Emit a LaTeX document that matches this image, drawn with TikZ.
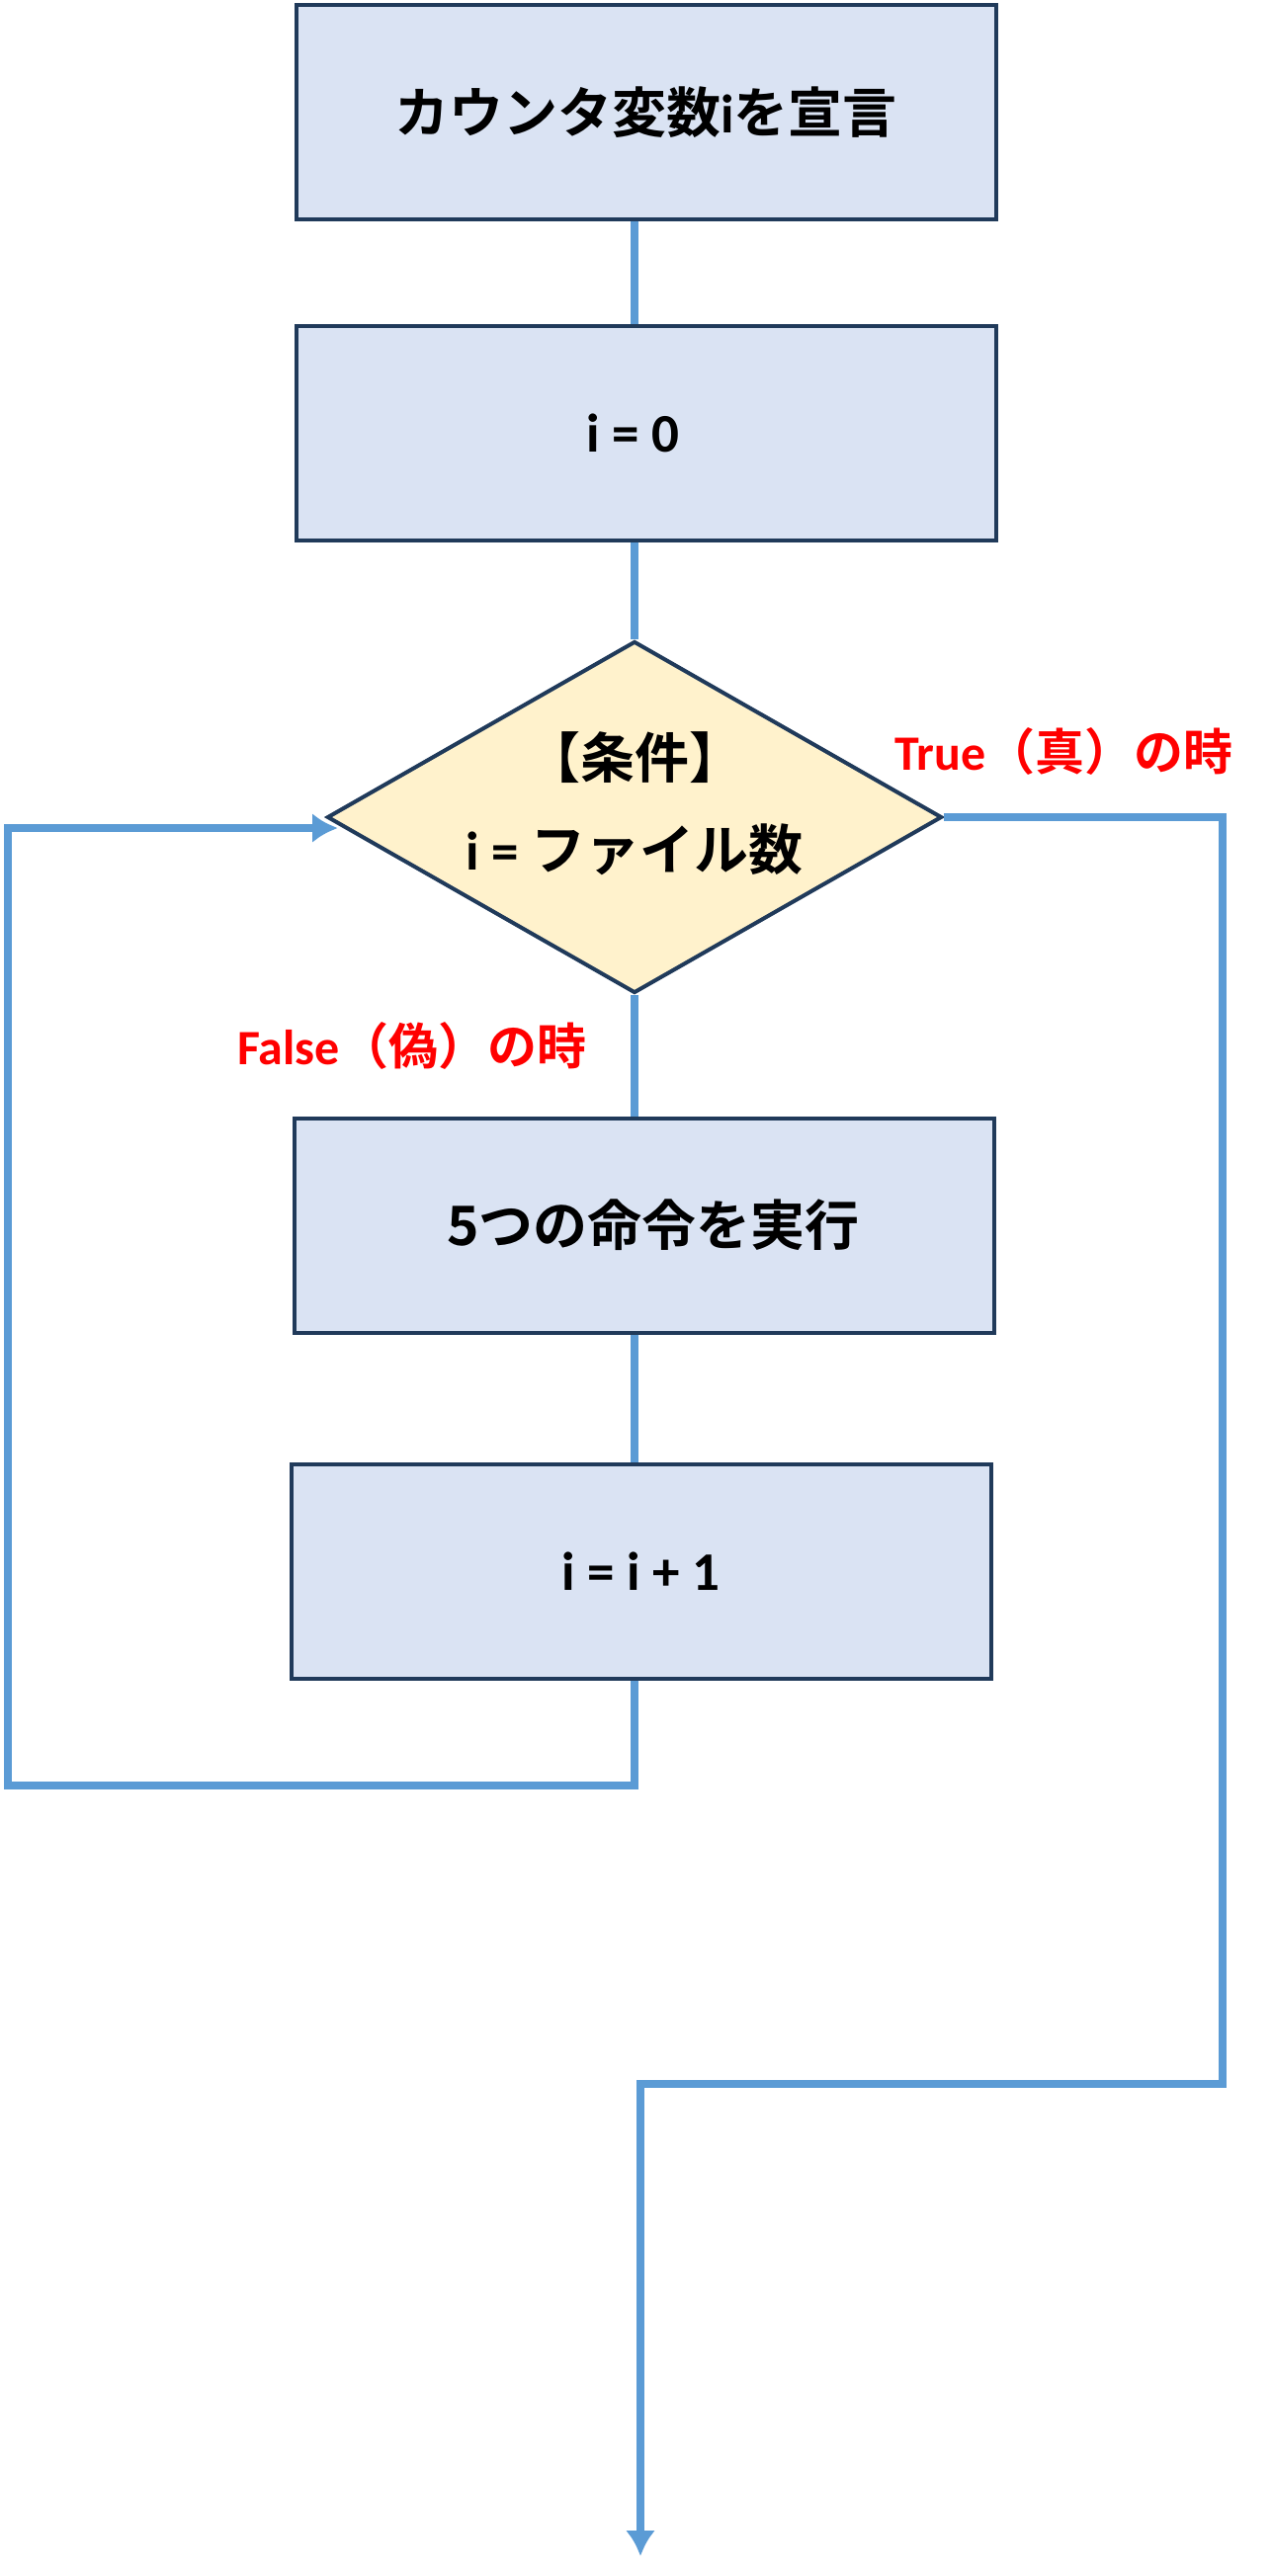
\documentclass[tikz,border=0pt]{standalone}
\usepackage{fontspec}
\setmainfont{Carlito}
\newfontfamily\jp{Noto Sans CJK JP}[BoldFont={Noto Sans CJK JP Bold}]
\usetikzlibrary{shapes.geometric,arrows.meta}
\definecolor{boxfill}{HTML}{DAE3F3}
\definecolor{boxline}{HTML}{203A5A}
\definecolor{condfill}{HTML}{FFF2CC}
\definecolor{flowline}{HTML}{5B9BD5}
\definecolor{labelred}{HTML}{FF0000}
\tikzset{
  procbox/.style={draw=boxline,line width=4pt,fill=boxfill,minimum width=708pt,minimum height=217pt,inner sep=0pt,font=\fontsize{55}{66}\selectfont\bfseries},
  condbox/.style={diamond,draw=boxline,line width=4pt,fill=condfill,minimum width=622pt,minimum height=356pt,aspect=1.75,inner sep=0pt},
  condtext/.style={align=center,inner sep=0pt,font=\fontsize{55}{93}\selectfont\bfseries},
  flow/.style={draw=flowline,line width=8pt},
  flowarrow/.style={flow,-{Latex[length=26pt,width=30pt]}},
  branchlabel/.style={text=labelred,inner sep=0pt,font=\fontsize{50}{60}\selectfont\bfseries}
}
\begin{document}
\begin{tikzpicture}[x=1pt,y=-1pt]
        %% NOTE: page frame
        \useasboundingbox (0,0) rectangle (1287,2607);
        %% steps
        \node[procbox] (decl) at (653.5,113.5) {{\jp カウンタ変数}i{\jp を宣言}};
        \node[procbox] (init) at (653.5,438) {i = 0\hspace*{26pt}};
        \node[condbox] (cond) at (642,827) {};
        \node[condtext] (condtxt) at ([yshift=14pt]cond.center) {{\jp 【条件】}\\i = {\jp ファイル数}};
        \node[procbox] (body) at (652,1240) {\hspace*{18pt}{\jp 5つの命令を実行}};
        \node[procbox] (incr) at (648.5,1590) {i = i + 1};
        %% straight links
        \draw[flow] (cond.north |- decl.south) -- (cond.north |- init.north);
        \draw[flow] (cond.north |- init.south) -- (cond.north);
        \draw[flow] (cond.south) -- (cond.south |- body.north);
        \draw[flow] (cond.south |- body.south) -- (cond.south |- incr.north);
        %% loop back and exit
        \coordinate (loopin) at (342,838);
        \coordinate (exit) at (648,2587);
        \draw[flowarrow] (cond.south |- incr.south) |- (8,1807) |- (loopin);
        \draw[flowarrow] (cond.east) -| (1237,2109) -| (exit);
        %% branch labels
        \node[branchlabel,anchor=west] (truelbl) at (905,760) {True{\jp （真）の時}};
        \node[branchlabel,anchor=west] (falselbl) at (240,1058) {False{\jp （偽）の時}};
    \end{tikzpicture}
\end{document}
